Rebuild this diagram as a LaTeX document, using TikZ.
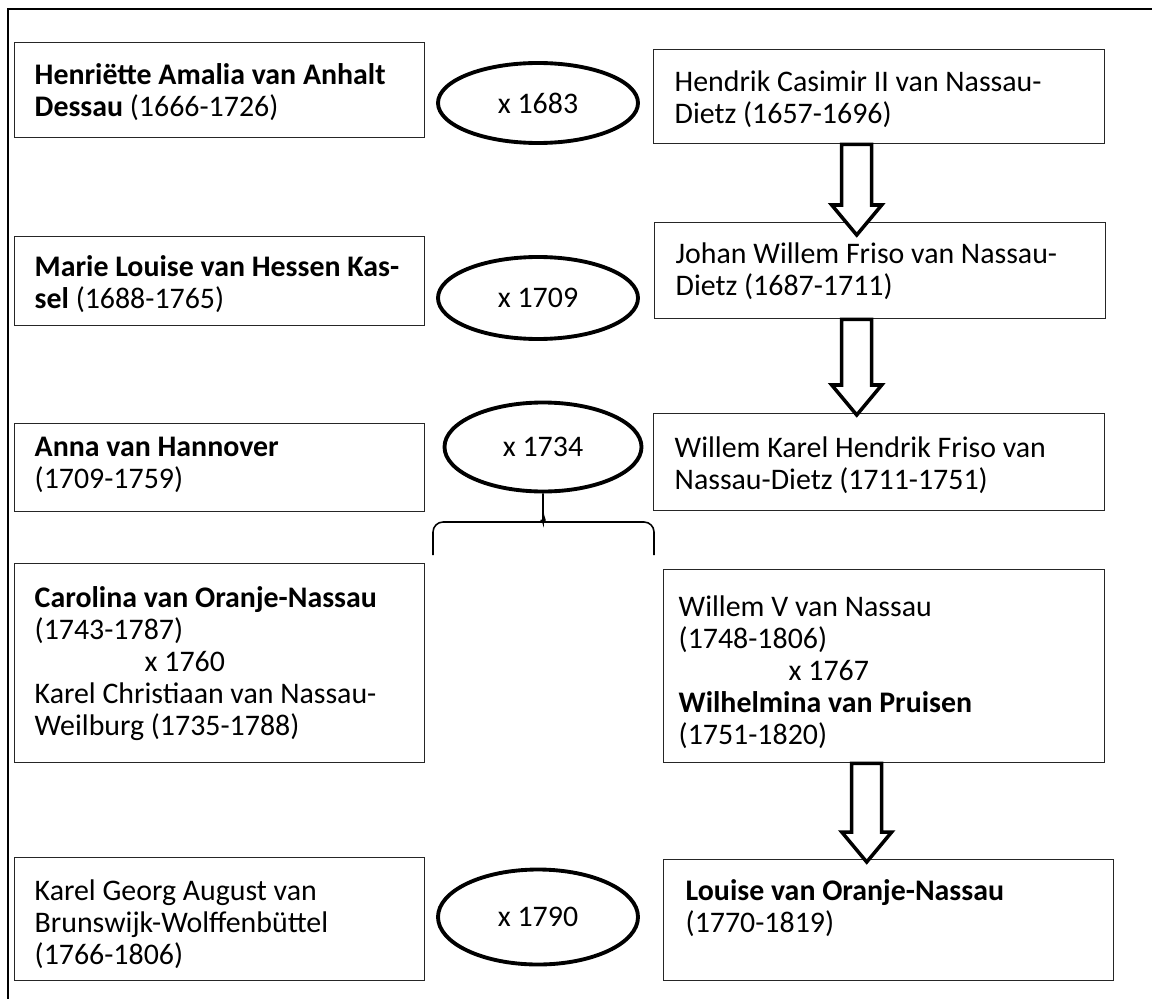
\documentclass[tikz,border=0pt]{standalone}
\usepackage{fontspec}
\setmainfont{Carlito}
\usepackage{tikz}
\usetikzlibrary{shapes.geometric, calc}

\begin{document}
\begin{tikzpicture}[
    person/.style={draw=black!85, line width=0.8pt, anchor=north west, align=flush left, inner ysep=0pt, font=\fontsize{17}{18.2}\selectfont},
    leftbox/.style={person, text width=8.0cm, inner xsep=0.1cm, execute at begin node={\leftskip=0.3cm}},
    rightbox/.style={person, text width=8.18cm, inner xsep=0.42cm},
    marriage/.style={ellipse, draw, line width=2.2pt, minimum width=4cm, minimum height=1.6cm, inner sep=0pt, font=\fontsize{17}{18.2}\selectfont},
    descent/.style={draw, line width=2pt, fill=white, line join=miter},
    kids/.style={draw, line width=0.9pt, rounded corners=0.2cm},
    outerframe/.style={line width=1.7pt}
  ]
    \useasboundingbox (0,0) rectangle (23.04,-19.98);

    % Frame
    \draw[outerframe] (0.16,-19.98) -- (0.16,-0.18) -- (23.04,-0.18);

    % Row 1
    \node[leftbox, text height=0.84cm, text depth=1.06cm] (henriette) at (0.28,-0.84) {
      \textbf{Henriëtte Amalia van Anhalt}\\\textbf{Dessau} (1666-1726)
    };
    \node[marriage] (wed1683) at (10.76,-2.06) {x 1683};
    \node[rightbox, text height=0.84cm, text depth=1.04cm] (hendrik) at (13.06,-0.98) {
      Hendrik Casimir II van Nassau-\\Dietz (1657-1696)
    };

    % Row 2
    \node[leftbox, text height=0.80cm, text depth=0.98cm] (marie) at (0.28,-4.72) {
      \textbf{Marie Louise van Hessen Kas-}\\\textbf{sel} (1688-1765)
    };
    \node[marriage, minimum height=1.64cm] (wed1709) at (10.76,-5.96) {x 1709};
    \node[rightbox, text height=0.82cm, text depth=1.10cm] (johan) at (13.08,-4.44) {
      Johan Willem Friso van Nassau-\\Dietz (1687-1711)
    };

    % Row 3
    \node[leftbox, text height=0.66cm, text depth=1.10cm] (anna) at (0.28,-8.46) {
      \textbf{Anna van Hannover}\\(1709-1759)
    };
    \node[marriage, minimum width=3.94cm, minimum height=1.78cm] (wed1734) at (10.86,-8.94) {x 1734};
    \node[rightbox, text height=0.88cm, text depth=1.06cm] (willemkarel) at (13.06,-8.26) {
      Willem Karel Hendrik Friso van\\Nassau-Dietz (1711-1751)
    };

    % Children
    \node[leftbox, text height=0.88cm, text depth=3.10cm] (carolina) at (0.28,-11.26) {
      \textbf{Carolina van Oranje-Nassau}\\(1743-1787)\\\hspace*{2.2cm}x 1760\\Karel Christiaan van Nassau-\\Weilburg (1735-1788)
    };
    \node[person, text width=8.22cm, inner xsep=0.3cm, text height=0.94cm, text depth=2.92cm] (willemv) at (13.26,-11.38) {
      Willem V van Nassau\\(1748-1806)\\\hspace*{2.2cm}x 1767\\\textbf{Wilhelmina van Pruisen}\\(1751-1820)
    };

    % Row 5
    \node[leftbox, text height=0.86cm, text depth=1.60cm] (karel) at (0.28,-17.14) {
      Karel Georg August van\\Brunswijk-Wolffenbüttel\\(1766-1806)
    };
    \node[marriage, minimum height=1.9cm] (wed1790) at (10.76,-18.34) {x 1790};
    \node[person, text width=8.12cm, inner xsep=0.44cm, text height=0.82cm, text depth=1.60cm] (louise) at (13.26,-17.18) {
      \textbf{Louise van Oranje-Nassau}\\(1770-1819)
    };

    % Brace to the children
    \coordinate (kidsleft) at (8.66,-11.1);
    \coordinate (kidsright) at (13.08,-11.1);
    \draw[kids] (kidsleft) |- (10.66,-10.44) to[out=0,in=-90] ($(wed1734.south)+(0,-0.38)$) -- (wed1734.south);
    \draw[kids] (kidsright) |- (11.06,-10.44) to[out=180,in=-90] ($(wed1734.south)+(0,-0.38)$);

    % Descent arrows
    \foreach \up/\down/\dx/\dip in {hendrik/johan/-0.45cm/0.26cm, johan/willemkarel/-0.47cm/0.04cm, willemv/louise/-0.35cm/0.06cm}
      \draw[descent] let \p1=([xshift=\dx]\up.south), \p2=(\down.north) in
        (\x1-0.3cm,\y1) -- (\x1-0.3cm,\y2-\dip+0.6cm) -- (\x1-0.5cm,\y2-\dip+0.6cm) -- (\x1,\y2-\dip)
        -- (\x1+0.5cm,\y2-\dip+0.6cm) -- (\x1+0.3cm,\y2-\dip+0.6cm) -- (\x1+0.3cm,\y1) -- cycle;

  \end{tikzpicture}
\end{document}
